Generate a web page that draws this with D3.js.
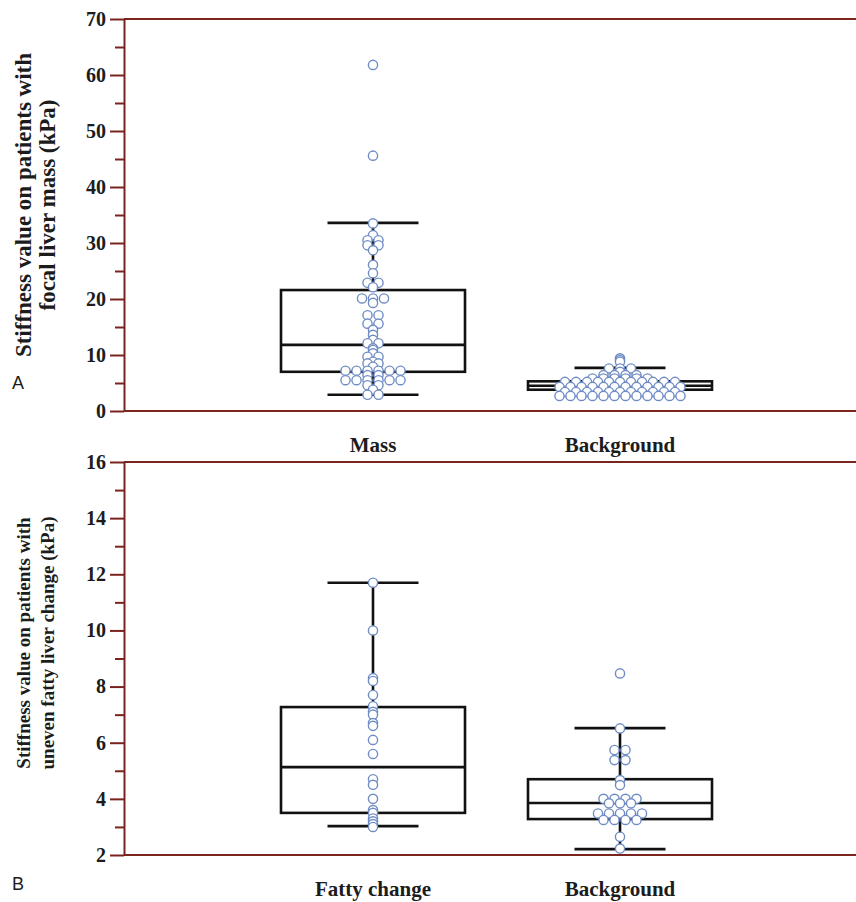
<!DOCTYPE html>
<html><head><meta charset="utf-8">
<script src="https://cdn.jsdelivr.net/npm/d3@7"></script>
<style>body{margin:0;background:#fff}svg{display:block}</style>
</head><body><svg id="c" width="856" height="902"></svg>
<script>
// ---------- data ----------
const categoriesA = ["Mass", "Background"];
const categoriesB = ["Fatty change", "Background"];

const massValues = [61.8, 45.6, 33.5, 31.4, 30.5, 30.5, 29.6, 29.6, 28.7, 26.1, 24.6,
  22.9, 22.9, 22.1, 20.1, 20.1, 20.1, 19.3, 17.1, 17.1, 15.6, 15.6, 14.5, 13.6, 12.7,
  12.1, 12.1, 11.2, 10.9, 10.3, 9.7, 9.7, 8.8, 8.5, 8.5, 7.9,
  7.2, 7.2, 7.2, 7.2, 7.2, 7.2, 6.4, 6.4, 5.5, 5.5, 5.5, 5.5, 5.5, 5.5,
  4.6, 4.6, 3.8, 2.9, 2.9];
const backgroundAValues = [9.4, 9.1, 8.8, 7.6, 7.6, 7.6, 7.0, 6.4, 6.4, 6.4, 6.4,
  5.8, 5.8, 5.8, 5.8, 5.8, 5.8,
  5.2, 5.2, 5.2, 5.2, 5.2, 5.2, 5.2, 5.2, 5.2, 5.2, 5.2,
  4.3, 4.3, 4.3, 4.3, 4.3, 4.3, 4.3, 4.3, 4.3, 4.3, 4.3, 4.3,
  3.4, 3.4, 3.4, 3.4, 3.4, 3.4, 3.4, 3.4, 3.4, 3.4, 3.4,
  2.7, 2.7, 2.7, 2.7, 2.7, 2.7, 2.7, 2.7, 2.7, 2.7, 2.7, 2.7];
const fattyValues = [11.7, 10.0, 8.3, 8.2, 7.7, 7.3, 7.1, 7.0, 6.7, 6.6, 6.1, 5.6,
  4.7, 4.5, 4.0, 3.6, 3.5, 3.3, 3.2, 3.1, 3.0];
const backgroundBValues = [8.47, 6.51, 5.74, 5.74, 5.38, 5.38, 4.67, 4.49,
  4.0, 4.0, 4.0, 4.0, 3.84, 3.84, 3.84, 3.48, 3.48, 3.48, 3.48, 3.48,
  3.25, 3.25, 3.25, 3.25, 2.65, 2.23];

// box stats: [lower whisker, Q1, median, Q3, upper whisker]
const massBox = [2.9, 7.0, 11.8, 21.6, 33.6];
const backgroundABox = [2.9, 3.8, 4.5, 5.3, 7.7];
const fattyBox = [3.03, 3.5, 5.13, 7.27, 11.7];
const backgroundBBox = [2.21, 3.28, 3.85, 4.7, 6.52];

const yTicksA = [0, 10, 20, 30, 40, 50, 60, 70];
const yMinorA = [5, 15, 25, 35, 45, 55, 65];
const yTicksB = [2, 4, 6, 8, 10, 12, 14, 16];
const yMinorB = [3, 5, 7, 9, 11, 13, 15];

const titleA = ["Stiffness value on patients with", "focal liver mass (kPa)"];
const titleB = ["Stiffness value on patients with", "uneven fatty liver change (kPa)"];

// ---------- drawing ----------
const svg = d3.select("#c");
const axisColor = "#7a2420";
const serif = "'Liberation Serif','Times New Roman',serif";
const plotLeft = 124, plotRight = 856;

function drawPanel(o) {
  const g = svg.append("g");
  const y = d3.scaleLinear().domain(o.domain).range([o.bottom, o.top]);
  const x = d3.scalePoint().domain(o.cats).range([373, 620]);
  const boxHalf = 92, capHalf = 45.5, spacing = 11, r = 4.6;

  g.append("line").attr("x1", plotLeft).attr("x2", plotRight).attr("y1", o.top).attr("y2", o.top)
    .attr("stroke", axisColor).attr("stroke-width", 2);
  g.append("line").attr("x1", plotLeft).attr("x2", plotRight).attr("y1", o.bottom).attr("y2", o.bottom)
    .attr("stroke", axisColor).attr("stroke-width", 2);

  const minor = g.append("g").attr("transform", `translate(${plotLeft},0)`)
    .call(d3.axisLeft(y).tickValues(o.minor).tickSize(9).tickSizeOuter(0).tickFormat(""));
  minor.select(".domain").remove();
  minor.selectAll("line").attr("stroke", axisColor).attr("stroke-width", 2);

  const ax = g.append("g").attr("transform", `translate(${plotLeft},0)`)
    .call(d3.axisLeft(y).tickValues(o.ticks).tickSize(14).tickSizeOuter(0).tickPadding(4));
  ax.select(".domain").attr("stroke", axisColor).attr("stroke-width", 2);
  ax.selectAll(".tick line").attr("stroke", axisColor).attr("stroke-width", 2);
  ax.selectAll(".tick text").attr("font-family", serif).attr("font-weight", "bold")
    .attr("font-size", 20).attr("fill", "#1c1c1c");

  o.cats.forEach((c, i) => {
    const b = o.boxes[i], cx = x(c);
    const bg = g.append("g").attr("stroke", "#111").attr("stroke-width", 2.6).attr("fill", "none");
    bg.append("line").attr("x1", cx).attr("x2", cx).attr("y1", y(b[0])).attr("y2", y(b[1]));
    bg.append("line").attr("x1", cx).attr("x2", cx).attr("y1", y(b[3])).attr("y2", y(b[4]));
    bg.append("line").attr("x1", cx - capHalf).attr("x2", cx + capHalf).attr("y1", y(b[0])).attr("y2", y(b[0]));
    bg.append("line").attr("x1", cx - capHalf).attr("x2", cx + capHalf).attr("y1", y(b[4])).attr("y2", y(b[4]));
    bg.append("rect").attr("x", cx - boxHalf).attr("width", boxHalf * 2)
      .attr("y", y(b[3])).attr("height", y(b[1]) - y(b[3]));
    bg.append("line").attr("x1", cx - boxHalf).attr("x2", cx + boxHalf).attr("y1", y(b[2])).attr("y2", y(b[2]));
  });

  o.cats.forEach((c, i) => {
    const vals = o.series[i];
    const groups = d3.group(vals, v => v);
    const pts = [];
    for (const [v, arr] of groups) {
      arr.forEach((_, k) => pts.push({ v, off: (k - (arr.length - 1) / 2) * spacing }));
    }
    g.append("g").selectAll("circle").data(pts).join("circle")
      .attr("cx", d => x(c) + d.off).attr("cy", d => y(d.v)).attr("r", r)
      .attr("fill", "#fff").attr("stroke", "#6f8cc4").attr("stroke-width", 1.4);
  });

  g.selectAll(".cat").data(o.cats).join("text")
    .attr("x", d => x(d)).attr("y", o.bottom + 41).attr("text-anchor", "middle")
    .attr("font-family", serif).attr("font-weight", "bold").attr("font-size", 21)
    .attr("fill", "#1c1c1c").text(d => d);

  const t = g.append("text").attr("transform", `translate(0,${o.titleY}) rotate(-90)`)
    .attr("text-anchor", "middle").attr("font-family", serif).attr("font-weight", "bold")
    .attr("font-size", o.titleSize).attr("fill", "#1c1c1c");
  o.title.forEach((s, k) => t.append("tspan").attr("x", 0).attr("y", [23, 47][k])
    .attr("dominant-baseline", "central").text(s));

  g.append("text").attr("x", 12).attr("y", o.letterY).attr("font-family", "'Liberation Sans',Arial,sans-serif")
    .attr("font-size", 18).attr("fill", "#1c1c1c").text(o.letter);
}

drawPanel({ top: 19, bottom: 411, domain: [0, 70], ticks: yTicksA, minor: yMinorA,
  cats: categoriesA, series: [massValues, backgroundAValues], boxes: [massBox, backgroundABox],
  title: titleA, titleSize: 23, titleY: 205, letter: "A", letterY: 389 });
drawPanel({ top: 462, bottom: 855, domain: [2, 16], ticks: yTicksB, minor: yMinorB,
  cats: categoriesB, series: [fattyValues, backgroundBValues], boxes: [fattyBox, backgroundBBox],
  title: titleB, titleSize: 19, titleY: 643, letter: "B", letterY: 890 });
</script></body></html>
